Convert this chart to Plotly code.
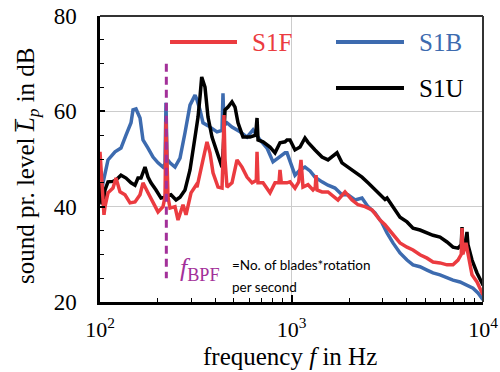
import plotly.graph_objects as go

# ---------------- data ----------------
freq_s1f = [100, 101.2, 102.4, 104.9, 106.2, 110.1, 116.9, 121.2, 127.2, 135.1, 143.5, 152.3, 161.8, 167.7,
            178.1, 189.2, 200.9, 213.3, 218.5, 221.1, 226.5, 232.0, 246.4, 255.5, 271.3, 281.3, 298.7, 317.3,
            321.1, 345.0, 362.0, 375.3, 389.2, 413.3, 433.6, 438.8, 444.1, 449.5, 460.4, 488.9, 519.4, 551.5,
            585.7, 622.2, 655, 660.7, 668.7, 710.1, 772.3, 820.2, 860, 870.9, 885, 947.4, 982.2, 1043, 1090,
            1121, 1148, 1220, 1295, 1330, 1343, 1360, 1443, 1551, 1749, 1903, 2070, 2225, 2420, 2633, 2829,
            2898, 3079, 3153, 3388, 3686, 4010, 4311, 4688, 5101, 5481, 5963, 6486, 6970, 7404, 7700, 7770,
            7850, 8150, 8350, 8762, 9305, 9881, 10000]
level_s1f = [51.5, 48, 44, 38.3, 40, 42.9, 43.9, 46, 43.1, 42.5, 40.8, 41, 42.5, 45,
             42.9, 41, 38.9, 40, 42, 57.8, 42, 39.7, 40, 37.2, 40.4, 38.3, 42.9, 44.5,
             44.1, 49.8, 53.6, 51.3, 47.1, 44.1, 43.9, 50, 59.2, 50, 44.1, 45, 49.8, 48.3,
             46.2, 45, 45.5, 51.5, 45, 45, 42.9, 45, 45, 47.7, 45, 45, 45.2, 43.9, 45.2,
             49.8, 44.1, 44.6, 43.5, 44, 46.6, 43.5, 43.1, 43.1, 41.4, 43.1, 41.4, 40.4, 40, 39.3, 37.6,
             37.2, 36.2, 35.7, 34, 32.4, 31.5, 30.9, 29.9, 29.2, 28.4, 28.2, 27.8, 27.8, 28.8, 30, 35.5,
             30, 32.4, 30, 25.7, 24.2, 21.9, 21.5]

freq_s1b = [100, 101.2, 103.7, 110.1, 119.8, 128.7, 136.7, 145.2, 148.7, 154.2, 161.8, 167.7, 178.1, 189.2,
            200.9, 213.3, 218.5, 221.1, 224, 232, 246.4, 261.7, 277.9, 295.1, 313.5, 321.1, 332.8, 345,
            366, 375.3, 408.3, 433.6, 438.8, 444, 460.4, 488.9, 538.5, 585.7, 629.8, 684.9, 744.9, 800.7,
            870.9, 925, 947.4, 982.2, 1043, 1108, 1176, 1250, 1327, 1443, 1551, 1687, 1835, 1972, 2146,
            2334, 2509, 2729, 2969, 3153, 3388, 3686, 4010, 4311, 4688, 5101, 5481, 5963, 6486, 6970,
            7585, 8248, 8868, 9417, 9881, 10000]
level_s1b = [43, 42.5, 45, 49.8, 51.5, 52.3, 55, 57.6, 60.3, 60.5, 58.6, 54, 52.3, 50.4,
             49.2, 48.3, 49, 61.8, 50, 49.2, 48.3, 50.2, 55.5, 61.3, 63.4, 62.4, 60.3, 57.6,
             57, 56.7, 55.7, 56, 63.8, 57, 57.6, 56.7, 55.7, 54.6, 56.1, 54, 52.3, 49.4,
             50.4, 51.3, 51.3, 49.5, 46.6, 47.7, 48.3, 47.5, 46.2, 45.2, 44.5, 43.9, 42.5, 42.5, 41.4,
             41.8, 40, 38.7, 36.6, 34.5, 32.4, 30.3, 28.8, 27.8, 27.4, 26.7, 26.1, 25.7, 25, 24.6,
             24.2, 23.6, 22.9, 21.9, 20.8, 20.5]

freq_s1u = [100, 101.2, 102.4, 104.9, 106.2, 110.1, 116.9, 121.2, 128.7, 136.7, 145.2, 152.3, 157.9, 163.7,
            171.8, 178.1, 184.6, 196.1, 208.2, 218.5, 221.1, 226.5, 234.8, 249.4, 261.7, 277.9, 295.1, 313.5,
            325, 332.8, 339.7, 353.4, 366.4, 384.5, 408.3, 433.6, 440, 449.5, 466, 488.9, 507, 525.6,
            558.2, 607.4, 650, 660.7, 668.7, 710.1, 772.3, 820.2, 870.9, 925, 947.4, 982.2, 1043, 1108,
            1176, 1220, 1327, 1443, 1551, 1728, 1835, 1972, 2146, 2334, 2509, 2729, 2969, 3079, 3153,
            3388, 3686, 4010, 4311, 4688, 5101, 5481, 5963, 6486, 6970, 7404, 7700, 7770, 7850, 8150,
            8248, 8348, 8762, 9305, 9881, 10000]
level_s1u = [45, 43, 40.5, 42, 43.5, 45.2, 45.3, 45.6, 46.6, 46, 45, 44.5, 46, 46,
             48.3, 46.2, 45, 43.5, 41.8, 42, 43, 42.3, 42.5, 41.4, 42, 43.5, 47.7, 54.6,
             58.8, 63, 67.2, 65.1, 58.8, 54.6, 51.3, 48.3, 52, 60.3, 60.9, 62, 60.9, 57.6,
             54.6, 54.6, 55, 58.6, 54, 53.6, 52.5, 51.3, 53.4, 53.6, 54, 54, 51.9, 52.5,
             54.4, 53.5, 51.9, 50.4, 49.8, 51.3, 49.2, 48.3, 47.3, 46.2, 45, 43.5, 42, 41.5, 41.8,
             40, 37.8, 36.8, 35.5, 35.1, 34.5, 34, 33.6, 32.6, 31.5, 31.3, 32, 35.7, 31.5, 33,
             34.7, 32, 28.8, 26.1, 24, 23.5]

f_bpf = 222
bpf_levels = [70, 25]

series_names = ["S1F", "S1B", "S1U"]
x_tickvals = [100, 1000, 10000]
x_ticktext = ["10<sup>2</sup>", "10<sup>3</sup>", "10<sup>4</sup>"]
y_tickvals = [20, 40, 60, 80]

# ---------------- styles ----------------
RED = "#EB3B40"
BLUE = "#3D6BAF"
BLACK = "#000000"
PURPLE = "#A33099"
SERIF = "Liberation Serif, DejaVu Serif, serif"

fig = go.Figure()
fig.add_trace(go.Scatter(x=freq_s1b, y=level_s1b, mode="lines", line=dict(color=BLUE, width=3.5), name="S1B"))
fig.add_trace(go.Scatter(x=freq_s1u, y=level_s1u, mode="lines", line=dict(color=BLACK, width=3.5), name="S1U"))
fig.add_trace(go.Scatter(x=freq_s1f, y=level_s1f, mode="lines", line=dict(color=RED, width=3.5), name="S1F"))
fig.add_trace(go.Scatter(x=[f_bpf, f_bpf], y=bpf_levels, mode="lines",
                         line=dict(color=PURPLE, width=3, dash="8px,5px"), name="BPF"))

fig.update_layout(
    width=500, height=372,
    margin=dict(l=100, r=17, t=16, b=70),
    paper_bgcolor="white", plot_bgcolor="white",
    showlegend=False,
    font=dict(family=SERIF, size=23, color="black"),
)
fig.update_xaxes(
    type="log", range=[2, 4], automargin=False,
    tickmode="array", tickvals=x_tickvals, ticktext=x_ticktext,
    ticks="inside", ticklen=7, tickwidth=2, tickcolor="black",
    showline=True, linecolor="black", linewidth=2.5,
    showgrid=True, gridcolor="#cccccc", gridwidth=1,
    zeroline=False, ticklabelstandoff=6,
    tickfont=dict(family=SERIF, size=22),
    minor=dict(ticks="inside", ticklen=4, tickwidth=1.3, tickcolor="black", showgrid=False,
               tickmode="array",
               tickvals=[200, 300, 400, 500, 600, 700, 800, 900,
                         2000, 3000, 4000, 5000, 6000, 7000, 8000, 9000]),
)
fig.update_yaxes(
    range=[20, 80], automargin=False,
    tickmode="array", tickvals=y_tickvals,
    ticks="inside", ticklen=5, tickwidth=1.5, tickcolor="black",
    showline=True, linecolor="black", linewidth=2.5,
    showgrid=True, gridcolor="#cccccc", gridwidth=1,
    zeroline=False, ticklabelstandoff=16,
    tickfont=dict(family=SERIF, size=23),
    minor=dict(ticks="inside", ticklen=4, tickwidth=1.3, tickcolor="black", showgrid=False, dtick=5),
)

# frame top and right
fig.add_shape(type="line", xref="paper", yref="paper", x0=0, x1=1, y0=1, y1=1,
              line=dict(color="#333333", width=2))
fig.add_shape(type="line", xref="paper", yref="paper", x0=1, x1=1, y0=0, y1=1,
              line=dict(color="#333333", width=2))

# manual legend
legend_items = [
    (series_names[0], RED, 0.1828, 0.3577, 0.3916, 0.909),
    (series_names[1], BLUE, 0.6162, 0.7937, 0.8277, 0.909),
    (series_names[2], BLACK, 0.6162, 0.7937, 0.8277, 0.748),
]
for name, col, lx0, lx1, tx, ly in legend_items:
    fig.add_shape(type="line", xref="paper", yref="paper", x0=lx0, x1=lx1, y0=ly, y1=ly,
                  line=dict(color=col, width=4))
    fig.add_annotation(xref="paper", yref="paper", x=tx, y=ly, text=name, showarrow=False,
                       xanchor="left", yanchor="middle",
                       font=dict(family=SERIF, size=25, color=col))

# BPF annotation
fig.add_annotation(xref="paper", yref="paper", x=0.2035, y=0.115,
                   text="<i>f</i><sub>BPF</sub>", showarrow=False, xanchor="left", yanchor="middle",
                   font=dict(family=SERIF, size=26, color=PURPLE))
fig.add_annotation(xref="paper", yref="paper", x=0.3394, y=0.129,
                   text="=No. of blades*rotation", showarrow=False, xanchor="left", yanchor="middle",
                   font=dict(family="Lato", size=13.5, color="black"))
fig.add_annotation(xref="paper", yref="paper", x=0.3394, y=0.052,
                   text="per second", showarrow=False, xanchor="left", yanchor="middle",
                   font=dict(family="Lato", size=13.5, color="black"))

# axis titles
fig.add_annotation(xref="paper", yref="paper", x=-0.1906, y=0.4755,
                   text="sound pr. level <i>L\u0305</i><sub><i>p</i></sub> in dB", textangle=-90,
                   showarrow=False, xanchor="center", yanchor="middle",
                   font=dict(family=SERIF, size=25))
fig.add_annotation(xref="paper", yref="paper", x=0.496, y=-0.19,
                   text="frequency <i>f</i> in Hz", showarrow=False, xanchor="center", yanchor="middle",
                   font=dict(family=SERIF, size=25))

fig.write_html("out.html")
